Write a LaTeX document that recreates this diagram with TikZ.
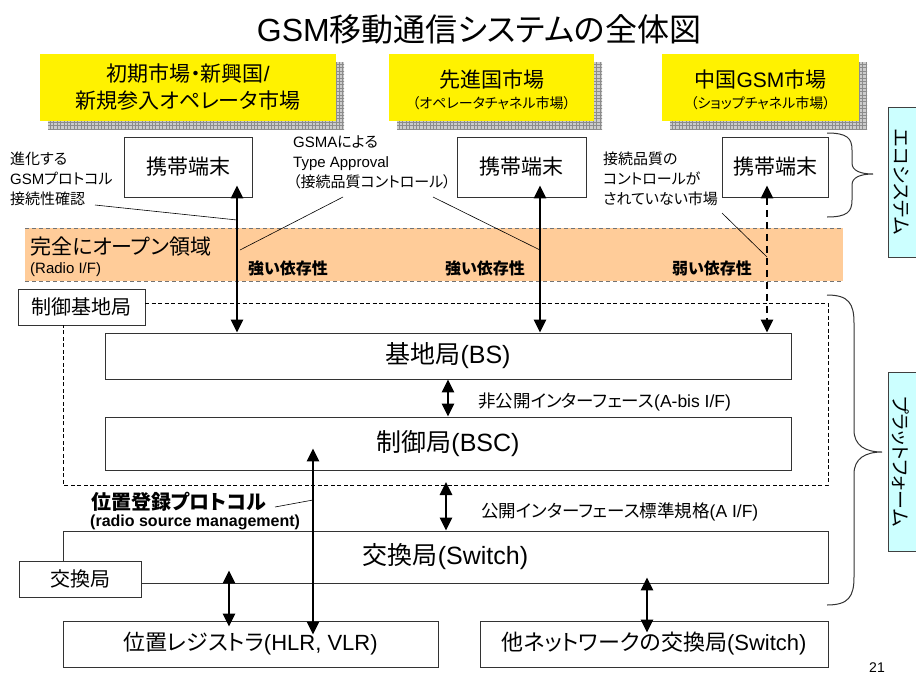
\documentclass[tikz,border=0pt]{standalone}
\usepackage{fontspec}
\setmainfont{Noto Sans CJK JP}[RawFeature=+palt]
\newfontfamily\lat{Liberation Sans}
\usetikzlibrary{arrows.meta,calc}
\newcommand{\fsz}[2]{\fontsize{#1}{#2}\selectfont}
\newcommand{\gridshadow}[4]{%
  \begin{scope}
    \fill[black!20] (#1+8,#2+8) rectangle (#3+8,#4+8);
    \clip (#1+8,#2+8) rectangle (#3+8,#4+8);
    \foreach \g in {0,3.4,...,320} \draw[black!45,line width=0.35pt] (#1+\g,#2) -- ++(0,90);
    \foreach \g in {0,3.4,...,85} \draw[black!45,line width=0.35pt] (#1,#2+\g) -- ++(330,0);
  \end{scope}}
\newcommand{\sidebrace}[8]{%
  \draw[bracestyle] (#1,#2) .. controls ({#5-0.2*(#5-#1)},#2) and (#5,{#2+0.3*#7}) .. (#5,{#2+#7})
    -- (#5,{#4-#8}) .. controls (#5,{#4-0.3*#8}) and ({#5+0.4*(#6-#5)},#4) .. (#6,#4)
    .. controls ({#5+0.4*(#6-#5)},#4) and (#5,{#4+0.3*#8}) .. (#5,{#4+#8})
    -- (#5,{#3-#7}) .. controls (#5,{#3-0.3*#7}) and ({#5-0.2*(#5-#1)},#3) .. (#1,#3);}
\tikzset{
  box/.style={draw=black!80, line width=0.8pt, fill=white, inner sep=0pt},
  ybox/.style={fill=yellow, inner sep=0pt, minimum height=67pt},
  cybox/.style={draw=black!75, line width=0.8pt, fill={rgb,255:red,204;green,255;blue,255}},
  tip/.tip={Triangle[width=12pt,length=13pt]},
  biarrow/.style={line width=2.6pt, tip-tip},
  dasharrow/.style={biarrow, dash pattern=on 7pt off 5pt},
  callout/.style={line width=0.6pt},
  calltext/.style={inner sep=0pt, anchor=north west, align=left, font=\fsz{15}{20}},
  bracestyle/.style={line width=1pt, draw=black!80},
  bandline/.style={draw=black!55, line width=1pt, dash pattern=on 4pt off 3pt},
  regionline/.style={line width=0.7pt, dash pattern=on 4pt off 2.5pt},
  plain/.style={inner sep=0pt},
}
\begin{document}
\begin{tikzpicture}[x=1pt,y=-1pt]
\useasboundingbox (0,0) rectangle (916,678);
% title
\node[plain, font=\fsz{32}{32}] (title) at (479,29) {{\lat GSM}移動通信システムの全体図};
% market boxes with shadows
\gridshadow{40}{54}{336}{121}
\gridshadow{389}{54}{594}{121}
\gridshadow{662}{54}{859}{121}
\node[ybox, minimum width=296pt] (m1) at (188,87.5) {};
\node[ybox, minimum width=205pt] (m2) at (491.5,87.5) {};
\node[ybox, minimum width=197pt] (m3) at (760.5,87.5) {};
\node[plain, align=center, font=\fsz{21}{27}] (m1t) at (m1) {初期市場・新興国{\lat /}\\新規参入オペレータ市場};
\node[plain, font=\fsz{21}{21}] (m2t) at (491.5,80) {先進国市場};
\node[plain, font=\fsz{14}{14}] (m2s) at (491.5,103) {（オペレータチャネル市場）};
\node[plain, font=\fsz{21}{21}] (m3t) at (760.5,80) {中国{\lat GSM}市場};
\node[plain, font=\fsz{14}{14}] (m3s) at (760.5,103) {（ショップチャネル市場）};
% phones
\node[box, minimum width=128pt, minimum height=60pt, font=\fsz{21}{21}] (pa) at (188,167) {携帯端末};
\node[box, minimum width=129pt, minimum height=60pt, font=\fsz{21}{21}] (pb) at (521.5,167) {携帯端末};
\node[box, minimum width=106pt, minimum height=60pt, font=\fsz{21}{21}] (pc) at (775,167) {携帯端末};
% band
\fill[fill={rgb,255:red,255;green,204;blue,153}] (25,228) rectangle (843,281);
\coordinate (bandtl) at (25,228); \coordinate (bandtr) at (843,228);
\coordinate (bandbl) at (25,281); \coordinate (bandbr) at (843,281);
\draw[bandline] (bandtl) -- (bandtr);
\draw[bandline] (bandbl) -- (bandbr);
\node[plain, anchor=west, font=\fsz{21}{21}] (band) at (30,247) {完全にオープン領域};
\node[plain, anchor=west, font=\lat\fsz{15}{15}] (bandsub) at (30,270) {(Radio I/F)};
\node[plain, anchor=west, font=\bfseries\fsz{16}{16}] (dep1) at (248,268) {強い依存性};
\node[plain, anchor=west, font=\bfseries\fsz{16}{16}] (dep2) at (445,268) {強い依存性};
\node[plain, anchor=west, font=\bfseries\fsz{16}{16}] (dep3) at (672,268) {弱い依存性};
% callouts
\node[calltext] (c1) at (10,152) {進化する\\{\lat GSM}プロトコル\\接続性確認};
\node[calltext] (c2) at (293,136) {{\lat GSMA}による\\{\lat Type Approval}\\（接続品質コントロール）};
\node[calltext] (c3) at (603,152) {接続品質の\\コントロールが\\されていない市場};
% control region
\node[box, minimum width=127pt, minimum height=36pt, font=\fsz{20}{20}] (cbl) at (81.5,307) {制御基地局};
\coordinate (r1) at (145,303); \coordinate (r2) at (828,303);
\coordinate (r3) at (828,485); \coordinate (r4) at (63,485); \coordinate (r5) at (63,325);
\draw[regionline] (r1) -- (r2) -- (r3) -- (r4) -- (r5);
\node[box, minimum width=686pt, minimum height=46pt, font=\fsz{25}{25}] (bs) at (448,356) {基地局{\lat (BS)}};
\node[box, minimum width=686pt, minimum height=53pt, font=\fsz{25}{25}] (bsc) at (448,443.5) {制御局{\lat (BSC)}};
\node[plain, anchor=west, font=\fsz{17.5}{17.5}] (abis) at (478,402) {非公開インターフェース{\lat (A-bis I/F)}};
\node[plain, anchor=west, font=\fsz{17.5}{17.5}] (aif) at (481,512) {公開インターフェース標準規格{\lat (A I/F)}};
% switch
\node[box, minimum width=765pt, minimum height=52pt, font=\fsz{25}{25}] (sw) at (445.5,557) {交換局{\lat (Switch)}};
\node[box, minimum width=122pt, minimum height=36pt, font=\fsz{20}{20}] (swl) at (80,579) {交換局};
\node[plain, anchor=west, font=\bfseries\fsz{20}{20}] (reg) at (91,502) {位置登録プロトコル};
\node[plain, anchor=west, font=\lat\bfseries\fsz{16}{16}] (regsub) at (90,522) {(radio source management)};
\node[box, minimum width=375pt, minimum height=46pt, font=\fsz{22}{22}] (hlr) at (250.5,644) {位置レジストラ{\lat (HLR, VLR)}};
\node[box, minimum width=348pt, minimum height=46pt, font=\fsz{22}{22}] (osw) at (654,644) {他ネットワークの交換局{\lat (Switch)}};
% arrow x positions
\coordinate (xa1) at (237,0); \coordinate (xa2) at (540,0); \coordinate (xa3) at (767,0);
\coordinate (xa4) at (448,0); \coordinate (xa5) at (446,0); \coordinate (xa6) at (313,0);
\coordinate (xa7) at (229,0); \coordinate (xa8) at (647,0);
% callout lines
\coordinate (l1a) at (95,205); \coordinate (l1b) at (237,220);
\coordinate (l2a) at (343,197); \coordinate (l2b) at (240,250);
\coordinate (l3a) at (433,197); \coordinate (l3b) at (540,250);
\coordinate (l4a) at (722,213); \coordinate (l4b) at (767,257);
\coordinate (l5a) at (275,507); \coordinate (l5b) at (313,500);
\draw[callout] (l1a) -- (l1b);
\draw[callout] (l2a) -- (l2b);
\draw[callout] (l3a) -- (l3b);
\draw[callout] (l4a) -- (l4b);
\draw[callout] (l5a) -- (l5b);
% arrows
\draw[biarrow, shorten <=-12pt] (pa.south -| xa1) -- (bs.north -| xa1);
\draw[biarrow, shorten <=-12pt] (pb.south -| xa2) -- (bs.north -| xa2);
\draw[dasharrow, shorten <=-12pt] (pc.south -| xa3) -- (bs.north -| xa3);
\draw[biarrow] (bs.south -| xa4) -- (bsc.north -| xa4);
\draw[biarrow, shorten <=-3pt] (r4 -| xa5) -- (sw.north -| xa5);
\draw[biarrow, shorten <=-22pt, shorten >=-14pt] (bsc.south -| xa6) -- (hlr.north -| xa6);
\draw[biarrow, shorten <=-13pt, shorten >=-6pt] (sw.south -| xa7) -- (hlr.north -| xa7);
\draw[biarrow, shorten <=-6pt, shorten >=-12pt] (sw.south -| xa8) -- (osw.north -| xa8);
% braces
\sidebrace{827}{133}{217}{174}{852}{873}{17}{11}
\sidebrace{827}{295}{605}{452}{854}{882}{28}{22}
% side labels
\draw[cybox] (888,107) rectangle (930,257);
\node[plain, rotate=-90, font=\fsz{19}{19}] (eco) at (901,182) {エコシステム};
\draw[cybox] (888,372) rectangle (930,551);
\node[plain, rotate=-90, font=\fsz{19}{19}] (plat) at (901,461.5) {プラットフォーム};
\node[plain, font=\lat\fsz{14}{14}] (pg) at (877,668) {21};
\end{tikzpicture}
\end{document}
